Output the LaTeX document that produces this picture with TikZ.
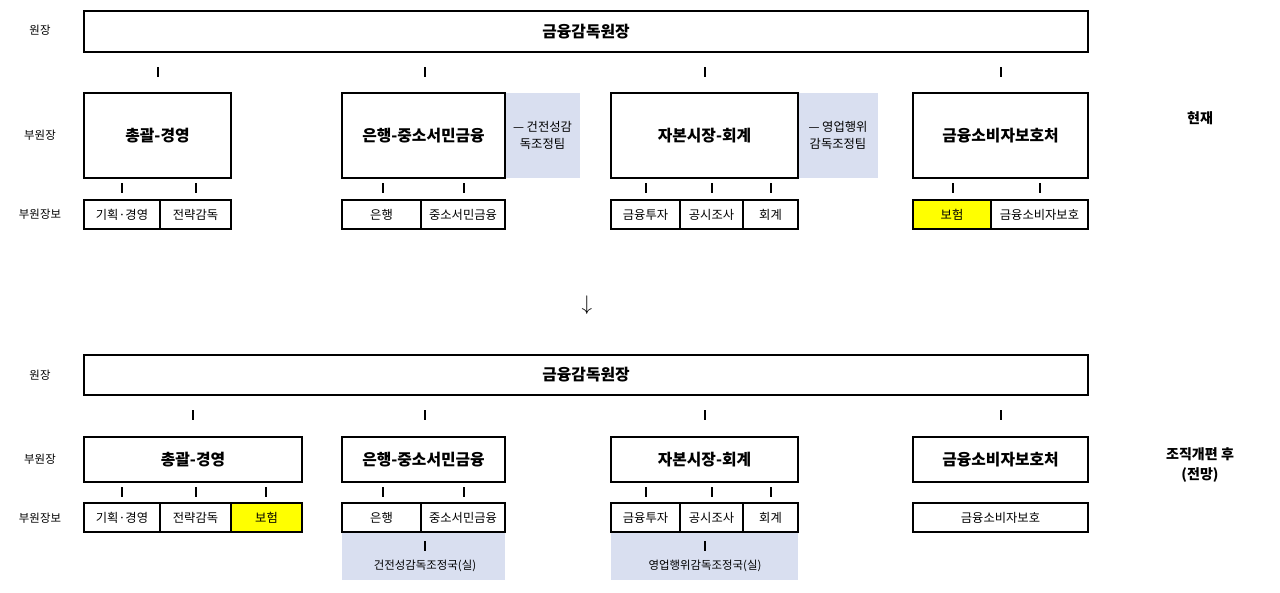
\documentclass[tikz,border=0pt]{standalone}
\usepackage{fontspec}
\setmainfont{Noto Sans CJK KR}
\usetikzlibrary{positioning}
\definecolor{paleblue}{HTML}{D9DFF0}
\definecolor{hiyellow}{HTML}{FFFF00}
\tikzset{
  box/.style={draw=black,thick,inner sep=0pt,align=center,font=\fontsize{7}{9}\selectfont},
  big/.style={font=\fontsize{9}{11}\selectfont\bfseries},
  tag/.style={font=\fontsize{6.5}{8}\selectfont,align=center},
  tick/.style={thick}
}
% \cell{name}{x1}{y1}{x2}{y2}{options}{text}
\newcommand{\cell}[7]{\node[box,#6,minimum width={(#4-#2)*0.02cm},minimum height={(#5-#3)*0.02cm}]
  (#1) at ({(#2+#4)/2},{(#3+#5)/2}) {#7};}
\newcommand{\ticks}[3]{\foreach \xx in {#1} \draw[tick] (\xx,#2) -- (\xx,#3);}
\begin{document}
\begin{tikzpicture}[x=0.02cm,y=-0.02cm]
\useasboundingbox (0,0) rectangle (1280,592);
% current
\node[tag] (lab1) at (40,30) {원장};
\node[tag] (lab2) at (40,135) {부원장};
\node[tag] (lab3) at (40,214) {부원장보};
\node[font=\fontsize{8}{10}\selectfont\bfseries] (now) at (1200,118) {현재};
\cell{head}{84}{11}{1088}{52}{big}{금융감독원장}
\ticks{158,425,705,1001}{67}{77}
\cell{v1}{84}{93}{231}{178}{big}{총괄-경영}
\node[fill=paleblue,minimum width=75*0.02cm,minimum height=85*0.02cm,font=\fontsize{7}{10}\selectfont,align=center] (t1) at (542.5,135.5) {— 건전성감\\독조정팀};
\cell{v2}{342}{93}{505}{178}{big}{은행-중소서민금융}
\node[fill=paleblue,minimum width=80*0.02cm,minimum height=85*0.02cm,font=\fontsize{7}{10}\selectfont,align=center] (t2) at (838,135.5) {— 영업행위\\감독조정팀};
\cell{v3}{611}{93}{798}{178}{big}{자본시장-회계}
\cell{v4}{913}{93}{1088}{178}{big}{금융소비자보호처}
\ticks{122,196,383,464,646,712,771,953,1040}{183}{193}
\cell{a1}{84}{200}{160}{229}{}{기획·경영}
\cell{a2}{160}{200}{231}{229}{}{전략감독}
\cell{a3}{342}{200}{421}{229}{}{은행}
\cell{a4}{421}{200}{505}{229}{}{중소서민금융}
\cell{a5}{611}{200}{680}{229}{}{금융투자}
\cell{a6}{680}{200}{743}{229}{}{공시조사}
\cell{a7}{743}{200}{798}{229}{}{회계}
\cell{a8}{913}{200}{991}{229}{fill=hiyellow}{보험}
\cell{a9}{991}{200}{1088}{229}{}{금융소비자보호}
\node[font=\fontsize{12}{12}\selectfont\bfseries] (arr) at (587,305) {$\downarrow$};
% after
\node[tag] (lab4) at (40,375) {원장};
\node[tag] (lab5) at (40,459) {부원장};
\node[tag] (lab6) at (40,518) {부원장보};
\node[font=\fontsize{8}{11}\selectfont\bfseries,align=center] (after) at (1200,465) {조직개편 후\\(전망)};
\cell{head2}{84}{355}{1088}{395}{big}{금융감독원장}
\ticks{193,425,705,1001}{410}{420}
\node[fill=paleblue,minimum width=163*0.02cm,minimum height=48*0.02cm] (b1) at (423.5,556) {};
\node[fill=paleblue,minimum width=187*0.02cm,minimum height=48*0.02cm] (b2) at (704.5,556) {};
\node[tag] (b1t) at (425,566) {건전성감독조정국(실)};
\node[tag] (b2t) at (705,566) {영업행위감독조정국(실)};
\ticks{425,705}{541}{551}
\cell{w1}{84}{437}{302}{482}{big}{총괄-경영}
\cell{w2}{342}{437}{505}{482}{big}{은행-중소서민금융}
\cell{w3}{611}{437}{798}{482}{big}{자본시장-회계}
\cell{w4}{913}{437}{1088}{482}{big}{금융소비자보호처}
\ticks{122,196,266,383,464,646,712,771}{487}{497}
\cell{c1}{84}{503}{160}{532}{}{기획·경영}
\cell{c2}{160}{503}{231}{532}{}{전략감독}
\cell{c3}{231}{503}{302}{532}{fill=hiyellow}{보험}
\cell{c4}{342}{503}{421}{532}{}{은행}
\cell{c5}{421}{503}{505}{532}{}{중소서민금융}
\cell{c6}{611}{503}{680}{532}{}{금융투자}
\cell{c7}{680}{503}{743}{532}{}{공시조사}
\cell{c8}{743}{503}{798}{532}{}{회계}
\cell{c9}{913}{503}{1088}{532}{}{금융소비자보호}
\end{tikzpicture}
\end{document}
